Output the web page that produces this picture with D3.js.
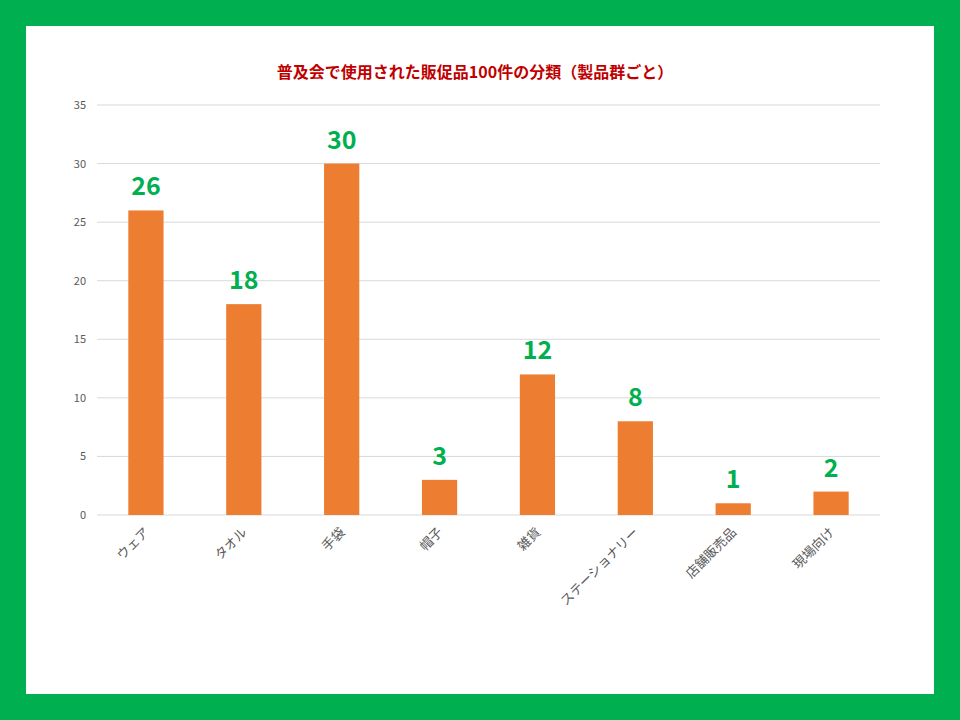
<!DOCTYPE html>
<html><head><meta charset="utf-8">
<script src="https://cdn.jsdelivr.net/npm/d3@7"></script>
<style>body{margin:0;background:#00b050}</style>
</head><body>
<svg width="960" height="720"></svg>
<script>
const categories = ['ウェア','タオル','手袋','帽子','雑貨','ステーショナリー','店舗販売品','現場向け']
const counts = [26, 18, 30, 3, 12, 8, 1, 2]
const yTicks = [0, 5, 10, 15, 20, 25, 30, 35]

const svg = d3.select('svg')
const font = '"Noto Sans CJK JP", "Noto Sans", sans-serif'
svg.append('rect').attr('width', 960).attr('height', 720).attr('fill', '#00b050')
svg.append('rect').attr('x', 26).attr('y', 26).attr('width', 908).attr('height', 668).attr('fill', '#fff')

const plotL = 97, plotR = 880, plotT = 105, plotB = 515
const x = d3.scaleBand().domain(categories).range([plotL, plotR]).paddingInner(0.64).paddingOuter(0.32)
const y = d3.scaleLinear().domain([0, 35]).range([plotB, plotT])

// gridlines
svg.append('g').selectAll('line').data(yTicks).enter().append('line')
    .attr('x1', plotL).attr('x2', plotR)
    .attr('y1', d => y(d)).attr('y2', d => y(d))
    .attr('stroke', '#d9d9d9').attr('stroke-width', 1)

svg.append('g').selectAll('text').data(yTicks).enter().append('text')
    .attr('x', 86).attr('y', d => y(d) + 4)
    .attr('text-anchor', 'end').attr('font-size', 11).attr('fill', '#595959')
    .attr('font-family', font).text(d => d)

svg.append('g').selectAll('rect').data(categories).enter().append('rect')
    .attr('x', d => x(d)).attr('width', x.bandwidth())
    .attr('y', (d, i) => y(counts[i])).attr('height', (d, i) => plotB - y(counts[i]))
    .attr('fill', '#ed7d31')

svg.append('g').selectAll('text').data(categories).enter().append('text')
    .attr('x', d => x(d) + x.bandwidth() / 2).attr('y', (d, i) => y(counts[i]) - 15)
    .attr('text-anchor', 'middle').attr('font-size', 25).attr('font-weight', 'bold')
    .attr('fill', '#00b050').attr('font-family', font).text((d, i) => counts[i])

svg.append('g').selectAll('text').data(categories).enter().append('text')
    .attr('transform', d => `translate(${x(d) + x.bandwidth() / 2 + 4},${plotB + 18}) rotate(-45)`)
    .attr('text-anchor', 'end').attr('font-size', 13).attr('fill', '#595959')
    .attr('font-family', font).text(d => d)

svg.append('text').attr('x', 475).attr('y', 78).attr('text-anchor', 'middle')
    .attr('font-size', 16).attr('font-weight', 'bold').attr('fill', '#c00000')
    .attr('font-family', font).text('普及会で使用された販促品100件の分類（製品群ごと）')
</script>
</body></html>
